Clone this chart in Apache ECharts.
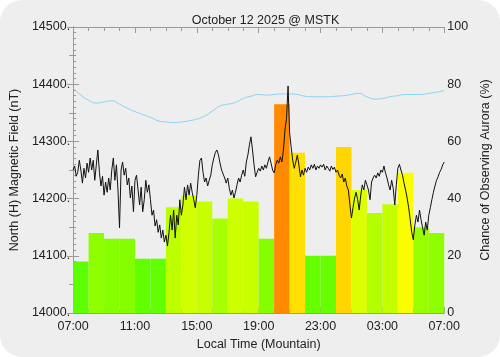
<!DOCTYPE html>
<html>
<head>
<meta charset="utf-8">
<script src="https://cdn.jsdelivr.net/npm/echarts@6/dist/echarts.min.js"></script>
<style>
  html, body { margin: 0; padding: 0; background: #ffffff; }
  #chart { width: 500px; height: 357px; background: #eeeeee; border-radius: 22px; overflow: hidden; }
</style>
</head>
<body>
<div id="chart"></div>
<script>
// ---- data ----
const titleText = 'October 12 2025 @ MSTK';
const startHourLocal = 7;            // axis starts at 07:00 local
const hourTicks = [0, 4, 8, 12, 16, 20, 24];

// hourly chance of observing aurora (%), 07:00 .. 06:00
const auroraChance = [18, 28, 26, 26, 19, 19, 37, 41, 39, 33, 40, 39,
                      26, 73, 56, 20, 20, 58, 43, 35, 38, 49, 30, 28];

// smooth (light blue) reference curve, hours since 07:00 and nT
const refHours = [0, 0.5, 1, 1.5, 2, 2.5, 3, 3.5, 4, 4.5, 5, 5.5, 6, 6.5, 7, 7.5, 8, 8.5, 9, 9.5,
                  10, 10.5, 11, 11.5, 12, 12.5, 13, 13.5, 14, 14.5, 15, 15.5, 16, 16.5, 17, 17.5,
                  18, 18.5, 19, 19.5, 20, 20.5, 21, 21.5, 22, 22.5, 23, 23.5, 24];
const refField = [14393, 14381, 14372, 14367, 14369, 14371, 14365, 14358, 14352, 14347, 14342,
                  14336, 14334, 14333, 14334, 14336, 14339, 14344, 14353, 14362, 14365, 14368,
                  14375, 14379, 14382, 14381, 14382, 14383, 14383, 14382, 14379, 14378, 14378,
                  14378, 14379, 14380, 14382, 14384, 14378, 14374, 14375, 14378, 14380, 14382,
                  14382, 14382, 14384, 14386, 14389];

// measured H field (nT), sampled every 0.1 h from 07:00
const magStepHours = 0.1;
const magField = [
  14250, 14257, 14239, 14246, 14267, 14250, 14227, 14253, 14236, 14262,
  14246, 14271, 14250, 14267, 14232, 14259, 14285, 14246, 14222, 14239,
  14206, 14229, 14211, 14236, 14215, 14250, 14271, 14232, 14259, 14215,
  14149, 14250, 14264, 14241, 14253, 14224, 14236, 14201, 14222, 14177,
  14232, 14241, 14215, 14189, 14220, 14177, 14198, 14232, 14211, 14224,
  14198, 14171, 14180, 14152, 14163, 14141, 14154, 14131, 14145, 14124,
  14136, 14117, 14141, 14171, 14145, 14180, 14131, 14171, 14154, 14198,
  14171, 14189, 14220, 14198, 14224, 14206, 14227, 14211, 14198, 14184,
  14206, 14241, 14267, 14271, 14246, 14229, 14236, 14222, 14232, 14241,
  14259, 14271, 14281, 14285, 14276, 14262, 14250, 14253, 14236, 14227,
  14236, 14218, 14206, 14215, 14201, 14211, 14224, 14236, 14229, 14241,
  14250, 14239, 14264, 14276, 14294, 14308, 14285, 14259, 14238, 14246,
  14253, 14248, 14257, 14250, 14259, 14253, 14264, 14273, 14262, 14250,
  14245, 14259, 14267, 14262, 14273, 14264, 14285, 14320, 14340, 14397,
  14315, 14290, 14267, 14253, 14264, 14276, 14259, 14238, 14250, 14241,
  14253, 14246, 14255, 14250, 14259, 14253, 14260, 14250, 14257, 14253,
  14259, 14255, 14260, 14250, 14257, 14253, 14248, 14257, 14251, 14255,
  14246, 14250, 14241, 14236, 14243, 14229, 14236, 14222, 14215, 14189,
  14166, 14184, 14201, 14211, 14198, 14180, 14206, 14224, 14215, 14232,
  14224, 14215, 14198, 14229, 14236, 14241, 14236, 14245, 14239, 14250,
  14246, 14257, 14245, 14236, 14224, 14215, 14232, 14218, 14189, 14224,
  14253, 14260, 14250, 14241, 14227, 14215, 14201, 14184, 14163, 14141,
  14128, 14154, 14171, 14159, 14180, 14163, 14149, 14136, 14159, 14145,
  14171, 14184, 14198, 14211, 14222, 14232, 14238, 14246, 14251, 14259,
  14264
];

// ---- build ----
const FONT = 'Liberation Sans';
const FS = 12.5;
const TXT = '#222222';
const AX = '#9a9a9a';
const pad2 = n => (n < 10 ? '0' : '') + n;
const timeLabel = v => pad2((startHourLocal + Math.round(v)) % 24) + ':00';

const magData = magField.map((v, i) => [+(i * magStepHours).toFixed(2), v]);
const refData = refHours.map((h, i) => [h, refField[i]]);
const barCats = auroraChance.map((_, i) => i);
const barColor = v => 'hsl(' + (120 - 1.2 * v).toFixed(1) + ',100%,50%)';

const chart = echarts.init(document.getElementById('chart'), null, { renderer: 'canvas' });
chart.setOption({
  animation: false,
  backgroundColor: 'transparent',
  textStyle: { fontFamily: FONT },
  title: {
    text: titleText,
    left: 260.5, top: 9, textAlign: 'center',
    textStyle: { fontFamily: FONT, fontSize: FS, fontWeight: 'normal', color: TXT }
  },
  grid: { left: 73, right: 52, top: 27, bottom: 44, containLabel: false },
  xAxis: [
    {
      type: 'value', min: 0, max: 24, interval: 4, position: 'bottom',
      name: 'Local Time (Mountain)', nameLocation: 'middle', nameGap: 23,
      nameTextStyle: { fontFamily: FONT, fontSize: FS, color: TXT },
      axisLine: { show: true, lineStyle: { color: AX, width: 1 } },
      axisTick: { show: true, inside: true, length: 6, lineStyle: { color: AX } },
      minorTick: { show: true, splitNumber: 4, length: 4, lineStyle: { color: AX } },
      splitLine: { show: false }, minorSplitLine: { show: false },
      axisLabel: { formatter: timeLabel, margin: 7, fontFamily: FONT, fontSize: FS, color: TXT }
    },
    {
      type: 'category', data: barCats, show: false, boundaryGap: true
    },
    {
      type: 'value', min: 0, max: 24, interval: 4, position: 'top',
      axisLine: { show: true, lineStyle: { color: AX, width: 1 } },
      axisTick: { show: true, inside: true, length: 6, lineStyle: { color: AX } },
      minorTick: { show: true, splitNumber: 4, length: 4, lineStyle: { color: AX } },
      splitLine: { show: false }, axisLabel: { show: false }
    }
  ],
  yAxis: [
    {
      type: 'value', min: 14000, max: 14500, interval: 100, position: 'left',
      name: 'North (H) Magnetic Field (nT)', nameLocation: 'middle', nameRotate: 90, nameGap: 51,
      nameTextStyle: { fontFamily: FONT, fontSize: FS, color: TXT },
      axisLine: { show: true, lineStyle: { color: AX, width: 1 } },
      axisTick: { show: true, inside: true, length: 6, lineStyle: { color: AX } },
      minorTick: { show: true, splitNumber: 10, length: 3, lineStyle: { color: AX } },
      splitLine: { show: false }, minorSplitLine: { show: false },
      axisLabel: { formatter: v => v + '.', margin: 3, fontFamily: FONT, fontSize: FS, color: TXT }
    },
    {
      type: 'value', min: 0, max: 100, interval: 20, position: 'right',
      name: 'Chance of Observing Aurora (%)', nameLocation: 'middle', nameRotate: 90, nameGap: 30,
      nameTextStyle: { fontFamily: FONT, fontSize: FS, color: TXT },
      axisLine: { show: true, lineStyle: { color: AX, width: 1 } },
      axisTick: { show: true, inside: true, length: 6, lineStyle: { color: AX } },
      minorTick: { show: true, splitNumber: 2, length: 4, lineStyle: { color: AX } },
      splitLine: { show: false }, minorSplitLine: { show: false },
      axisLabel: { margin: 3, fontFamily: FONT, fontSize: FS, color: TXT }
    }
  ],
  series: [
    {
      type: 'bar', xAxisIndex: 1, yAxisIndex: 1, barWidth: '100%', barGap: '0%',
      data: auroraChance.map(v => ({ value: v, itemStyle: { color: barColor(v) } })),
      z: 1, silent: true
    },
    {
      type: 'line', xAxisIndex: 0, yAxisIndex: 0, data: refData, smooth: true,
      showSymbol: false, lineStyle: { color: '#86d2f0', width: 1 }, z: 3, silent: true
    },
    {
      type: 'line', xAxisIndex: 0, yAxisIndex: 0, data: magData,
      showSymbol: false, lineStyle: { color: '#111111', width: 1 }, z: 4, silent: true
    }
  ]
});
</script>
</body>
</html>
